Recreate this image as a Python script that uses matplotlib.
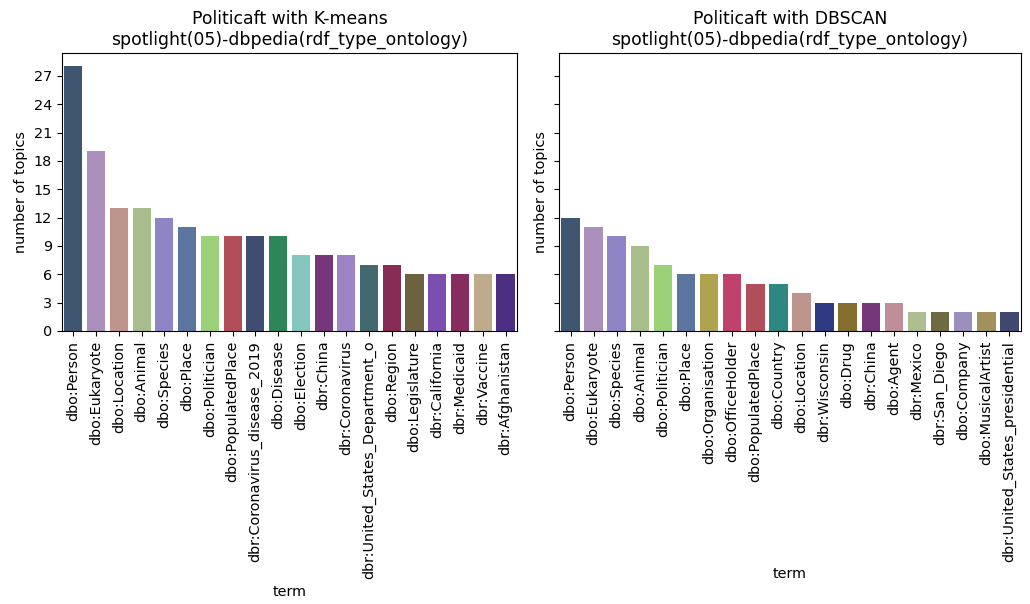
import matplotlib
matplotlib.use("Agg")
import matplotlib.pyplot as plt

# K-means clusters: top entity types by number of topics
kmeans_terms = [
    "dbo:Person", "dbo:Eukaryote", "dbo:Location", "dbo:Animal", "dbo:Species",
    "dbo:Place", "dbo:Politician", "dbo:PopulatedPlace", "dbr:Coronavirus_disease_2019",
    "dbo:Disease", "dbo:Election", "dbr:China", "dbr:Coronavirus",
    "dbr:United_States_Department_o", "dbo:Region", "dbo:Legislature",
    "dbr:California", "dbr:Medicaid", "dbr:Vaccine", "dbr:Afghanistan",
]
kmeans_counts = [28, 19, 13, 13, 12, 11, 10, 10, 10, 10, 8, 8, 8, 7, 7, 6, 6, 6, 6, 6]
kmeans_colors = [
    "#3f5670", "#ab8fbd", "#bd958c", "#a7bd8c", "#8f84c6", "#5b759f", "#9bd279",
    "#b04f5a", "#404d70", "#2e8658", "#85c6be", "#76367a", "#9c84c7", "#43696f",
    "#872c54", "#6e6140", "#7b4eaf", "#872c5f", "#bdab8c", "#4c2e83",
]

# DBSCAN clusters: top entity types by number of topics
dbscan_terms = [
    "dbo:Person", "dbo:Eukaryote", "dbo:Species", "dbo:Animal", "dbo:Politician",
    "dbo:Place", "dbo:Organisation", "dbo:OfficeHolder", "dbo:PopulatedPlace",
    "dbo:Country", "dbo:Location", "dbr:Wisconsin", "dbo:Drug", "dbr:China",
    "dbo:Agent", "dbr:Mexico", "dbr:San_Diego", "dbo:Company", "dbo:MusicalArtist",
    "dbr:United_States_presidential",
]
dbscan_counts = [12, 11, 10, 9, 7, 6, 6, 6, 5, 5, 4, 3, 3, 3, 3, 2, 2, 2, 2, 2]
dbscan_colors = [
    "#3f5670", "#ab8fbd", "#8f84c6", "#a7bd8c", "#9bd279", "#5b759f", "#afa350",
    "#bf426c", "#b04f5a", "#2e8783", "#bd958c", "#2e3b82", "#856f2f", "#76367a",
    "#bf8e9b", "#adbf8f", "#6e6a42", "#9c8fbd", "#a2915c", "#404870",
]

subtitle = "spotlight(05)-dbpedia(rdf_type_ontology)"
y_ticks = [0, 3, 6, 9, 12, 15, 18, 21, 24, 27]

label_size = 10.4
title_size = 12.4

fig = plt.figure(figsize=(10.3, 6.04), dpi=100)
ax1 = fig.add_axes([0.0602, 0.452, 0.4417, 0.460])
ax2 = fig.add_axes([0.5427, 0.452, 0.4485, 0.460], sharey=ax1)

panels = [
    (ax1, "Politicaft with K-means", kmeans_terms, kmeans_counts, kmeans_colors),
    (ax2, "Politicaft with DBSCAN", dbscan_terms, dbscan_counts, dbscan_colors),
]

for ax, name, terms, counts, colors in panels:
    pos = list(range(len(terms)))
    ax.bar(pos, counts, width=0.8, color=colors)
    ax.set_xticks(pos)
    ax.set_xticklabels(terms, rotation=90, fontsize=label_size)
    ax.set_xlim(-0.5, len(terms) - 0.5)
    ax.set_title(f"{name}\n{subtitle}", fontsize=title_size)
    ax.set_xlabel("term", fontsize=label_size)
    ax.set_ylabel("number of topics", fontsize=label_size)
    ax.tick_params(length=3.6)

ax1.set_yticks(y_ticks)
ax1.tick_params(axis="y", labelsize=label_size)
ax2.tick_params(axis="y", labelleft=False)

fig.savefig("out.png", dpi=100)
